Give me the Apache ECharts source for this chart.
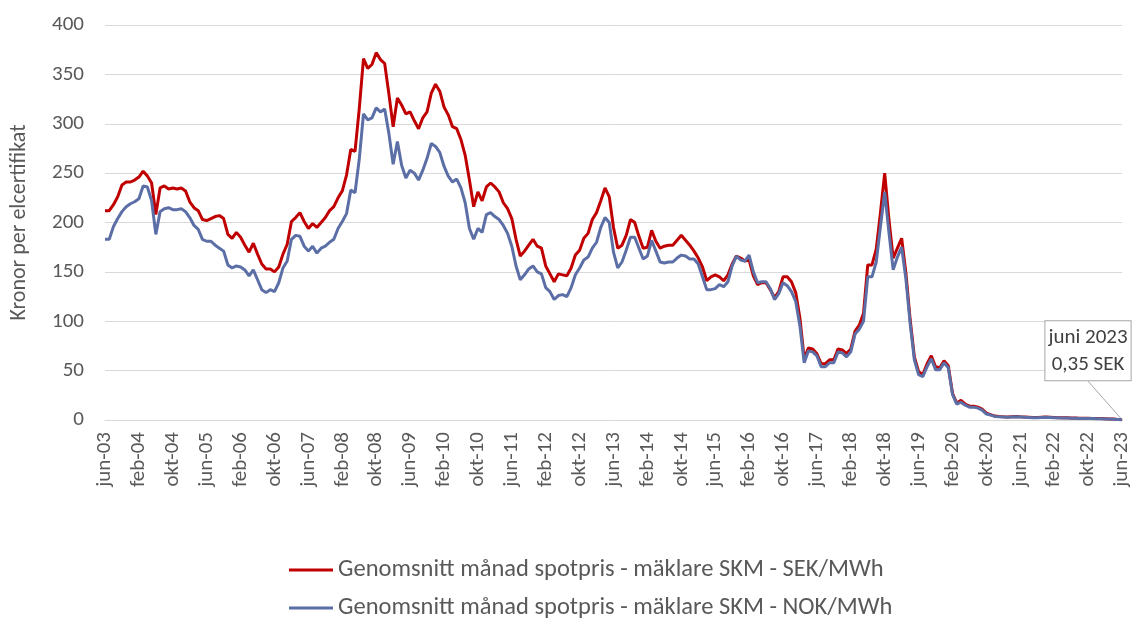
<!DOCTYPE html>
<html>
<head>
<meta charset="utf-8">
<script src="https://cdn.jsdelivr.net/npm/echarts@6/dist/echarts.min.js"></script>
<style>
html,body{margin:0;padding:0;background:#fff;}
#chart{width:1133px;height:623px;}
</style>
</head>
<body>
<div id="chart"></div>
<script>
// Month names (Swedish) and range: jun-03 .. jun-23
const monthNames = ['jan','feb','mar','apr','maj','jun','jul','aug','sep','okt','nov','dec'];
const startYear = 2003, startMonth = 5, monthCount = 241;

// Genomsnitt månad spotpris - mäklare SKM - SEK/MWh
const sekValues = [
  212,212,218,226,238,241,241,243,246,252,
  247,240,208,235,237,234,235,234,235,232,
  221,215,212,203,202,204,206,207,204,188,
  184,190,185,177,170,179,168,158,153,153,
  150,155,168,178,201,205,210,201,194,199,
  195,200,205,212,216,225,232,248,274,272,
  315,366,356,360,372,365,361,330,297,326,
  319,310,312,303,295,306,312,331,340,333,
  317,309,297,295,284,268,243,216,231,222,
  236,240,236,231,220,214,204,183,166,171,
  177,183,176,174,156,148,140,148,147,146,
  154,167,172,184,189,203,210,222,235,226,
  195,174,177,187,203,200,186,174,175,192,
  181,174,176,177,177,182,187,182,177,171,
  164,155,141,145,147,145,141,147,158,166,
  164,161,162,146,137,139,139,132,124,130,
  145,145,140,129,103,62,73,72,67,57,
  57,61,61,72,71,67,72,90,96,108,
  157,157,173,210,250,203,164,174,184,149,
  102,64,49,46,57,65,54,53,60,55,
  27,17,20,16,14,14,13,11,7,5.5,
  4,3.5,3.2,3,3.3,3.5,3.2,3,2.8,2.6,
  2.5,2.8,3,2.8,2.6,2.4,2.3,2.2,2,1.9,
  1.8,1.8,1.7,1.6,1.5,1.4,1.3,1.1,0.9,0.6,
  0.35
];

// Genomsnitt månad spotpris - mäklare SKM - NOK/MWh
const nokValues = [
  183,183,196,204,211,216,219,221,224,237,
  236,222,188,211,214,215,213,213,214,211,
  205,197,193,183,181,181,177,174,171,157,
  154,156,155,152,146,152,142,132,129,132,
  130,139,154,161,183,187,186,176,171,176,
  169,174,176,180,183,194,201,209,233,230,
  264,310,304,306,316,312,315,290,259,282,
  258,245,253,250,243,253,265,280,277,271,
  257,247,241,244,235,220,194,183,194,190,
  208,210,206,203,197,189,176,156,142,147,
  153,156,150,148,134,130,122,126,127,125,
  134,147,154,162,165,174,180,195,205,200,
  170,154,160,172,185,185,174,163,166,182,
  171,160,159,160,160,164,167,166,163,163,
  158,145,132,132,133,137,135,140,156,166,
  162,161,167,150,139,140,140,133,122,128,
  139,136,130,120,95,58,70,69,65,54,
  54,58,58,69,68,64,69,87,92,100,
  145,145,160,196,231,190,152,165,175,143,
  98,61,46,44,54,62,51,51,58,53,
  26,16,18,15,13,13,12,10,6,5,
  3.6,3.2,3,2.8,3,3.2,3,2.8,2.6,2.4,
  2.3,2.6,2.8,2.6,2.4,2.2,2.1,2,1.8,1.7,
  1.6,1.6,1.5,1.4,1.3,1.2,1.1,0.9,0.7,0.5,
  0.3
];

const seriesNames = [
  'Genomsnitt månad spotpris - mäklare SKM - SEK/MWh',
  'Genomsnitt månad spotpris - mäklare SKM - NOK/MWh'
];
const yAxisTitle = 'Kronor per elcertifikat';
const annotationText = 'juni 2023\n0,35 SEK';

const categories = [];
for (let k = 0; k < monthCount; k++) {
  const m = (startMonth + k) % 12;
  const y = startYear + Math.floor((startMonth + k) / 12);
  categories.push(monthNames[m] + '-' + String(y % 100).padStart(2, '0'));
}

const FONT = 'Carlito, Lato, "Open Sans", sans-serif';
const last = sekValues.length - 1;
const sekData = sekValues.map((v, i) => i === last ? {
  value: v,
  symbol: 'circle',
  symbolSize: 1,
  label: {
    show: true,
    position: 'top',
    formatter: annotationText,
    fontFamily: FONT,
    fontSize: 21,
    lineHeight: 27,
    color: '#404040',
    align: 'center',
    backgroundColor: '#fff',
    borderColor: '#a6a6a6',
    borderWidth: 1,
    padding: [3, 3, 2, 3]
  },
  labelLine: { show: true, lineStyle: { color: '#a6a6a6', width: 1 } }
} : v);

const chart = echarts.init(document.getElementById('chart'), null, { renderer: 'canvas' });
chart.setOption({
  animation: false,
  backgroundColor: '#fff',
  grid: { left: 104, right: 11, top: 25, bottom: 203, containLabel: false },
  legend: {
    orient: 'vertical',
    left: 289,
    top: 557,
    padding: 0,
    itemGap: 12,
    itemWidth: 44,
    itemHeight: 3,
    icon: 'rect',
    textStyle: { fontFamily: FONT, fontSize: 24.5, lineHeight: 26, color: '#595959' },
    data: seriesNames
  },
  xAxis: {
    type: 'category',
    data: categories,
    boundaryGap: false,
    axisLine: { show: true, lineStyle: { color: '#d9d9d9', width: 1 } },
    axisTick: { show: false },
    axisLabel: {
      interval: 7,
      rotate: 90,
      margin: 12,
      fontFamily: FONT,
      fontSize: 21,
      color: '#595959'
    },
    splitLine: { show: false }
  },
  yAxis: {
    type: 'value',
    min: 0,
    max: 400,
    interval: 50,
    name: yAxisTitle,
    nameLocation: 'middle',
    nameGap: 75,
    nameTextStyle: { fontFamily: FONT, fontSize: 22, color: '#595959' },
    axisLine: { show: false },
    axisTick: { show: false },
    axisLabel: { margin: 21, fontFamily: FONT, fontSize: 21, color: '#595959' },
    splitLine: { lineStyle: { color: '#d9d9d9', width: 1 } }
  },
  series: [
    {
      name: seriesNames[0],
      type: 'line',
      data: sekData,
      symbol: 'none',
      showAllSymbol: true,
      lineStyle: { color: '#C00000', width: 3 },
      itemStyle: { color: '#C00000' },
      labelLayout: { dx: -34, dy: -34 },
      z: 2
    },
    {
      name: seriesNames[1],
      type: 'line',
      data: nokValues,
      symbol: 'none',
      lineStyle: { color: '#5B6EA6', width: 3 },
      itemStyle: { color: '#5B6EA6' },
      z: 3
    }
  ]
});
</script>
</body>
</html>
